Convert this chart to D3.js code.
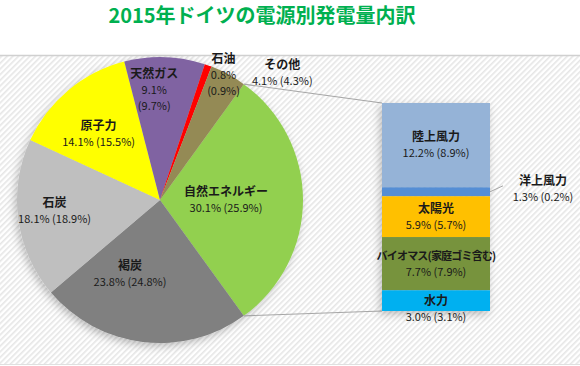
<!DOCTYPE html>
<html>
<head>
<meta charset="utf-8">
<script src="https://cdn.jsdelivr.net/npm/d3@7"></script>
<style>
  body { margin: 0; background: #fff; }
  svg text { font-family: "Noto Sans CJK JP", "Noto Sans", sans-serif; fill: #1a1a1a; }
</style>
</head>
<body>
<svg id="chart"></svg>
<script>
// 2015 share (2014 share in brackets)
var pieNames = ["自然エネルギー", "褐炭", "石炭", "原子力", "天然ガス", "石油", "その他"];
var pie2015  = [30.1, 23.8, 18.1, 14.1, 9.1, 0.8, 4.1];
var pie2014  = [25.9, 24.8, 18.9, 15.5, 9.7, 0.9, 4.3];
var pieColors = ["#92d050", "#808080", "#bfbfbf", "#ffff00", "#8064a2", "#ff0000", "#948a54"];

var barNames = ["陸上風力", "洋上風力", "太陽光", "バイオマス(家庭ゴミ含む)", "水力"];
var bar2015  = [12.2, 1.3, 5.9, 7.7, 3.0];
var bar2014  = [8.9, 0.2, 5.7, 7.9, 3.1];
var barColors = ["#95b3d7", "#558ed5", "#ffc000", "#77933c", "#00b0f0"];

var width = 580,
    height = 366,
    cx = 160, cy = 200, radius = 143;

var svg = d3.select("#chart")
    .attr("width", width)
    .attr("height", height);

var defs = svg.append("defs");
var pat = defs.append("pattern")
    .attr("id", "hatch")
    .attr("width", 4).attr("height", 4)
    .attr("patternUnits", "userSpaceOnUse")
    .attr("patternTransform", "rotate(-45)");
pat.append("rect").attr("width", 4).attr("height", 4).attr("fill", "#ffffff");
pat.append("rect").attr("width", 4).attr("height", 1.6).attr("fill", "#e6e6e6");

var shadow = defs.append("filter").attr("id", "shadow")
    .attr("x", "-20%").attr("y", "-20%").attr("width", "140%").attr("height", "140%");
shadow.append("feDropShadow")
    .attr("dx", -2).attr("dy", 3).attr("stdDeviation", 4)
    .attr("flood-color", "#000").attr("flood-opacity", 0.25);

// panel
svg.append("rect").attr("x", 0).attr("y", 55).attr("width", width).attr("height", 309)
    .attr("fill", "url(#hatch)");
svg.append("line").attr("x1", 0).attr("x2", width).attr("y1", 55.5).attr("y2", 55.5)
    .attr("stroke", "#d0d0d0").attr("stroke-width", 1.5);
svg.append("line").attr("x1", 0).attr("x2", width).attr("y1", 364.5).attr("y2", 364.5)
    .attr("stroke", "#e0e0e0");

svg.append("text")
    .attr("x", 262).attr("y", 23)
    .attr("text-anchor", "middle")
    .style("font-size", "20px").style("font-weight", "bold")
    .style("fill", "#00b050")
    .text("2015年ドイツの電源別発電量内訳");

// pie, renewable slice centred on 3 o'clock
var total = d3.sum(pie2015);
var start = Math.PI / 2 - pie2015[0] / total * Math.PI;
var pie = d3.pie().sort(null).startAngle(start).endAngle(start + 2 * Math.PI);
var arcs = pie(pie2015);
var arc = d3.arc().innerRadius(0).outerRadius(radius);

var g = svg.append("g").attr("transform", "translate(" + cx + "," + cy + ")");
g.append("g").attr("filter", "url(#shadow)")
  .selectAll("path")
  .data(arcs)
  .enter().append("path")
    .attr("d", arc)
    .attr("fill", function(d, i) { return pieColors[i]; });

// connector lines to the bar
var barX0 = 382, barX1 = 490;
var y = d3.scaleLinear().domain([0, d3.sum(bar2015)]).range([103, 311]);
var green = arcs[0];
[[green.startAngle, y(0)], [green.endAngle, y(d3.sum(bar2015))]].forEach(function(p) {
    svg.append("line")
        .attr("x1", cx + radius * Math.sin(p[0]))
        .attr("y1", cy - radius * Math.cos(p[0]))
        .attr("x2", barX0).attr("y2", p[1])
        .attr("stroke", "#a6a6a6").attr("stroke-width", 1.2);
});

// bar of renewables
var stack = d3.cumsum(bar2015);
var bg = svg.append("g").attr("filter", "url(#shadow)");
bg.selectAll("rect")
  .data(bar2015)
  .enter().append("rect")
    .attr("x", barX0)
    .attr("width", barX1 - barX0)
    .attr("y", function(d, i) { return y(stack[i] - d); })
    .attr("height", function(d) { return y(d) - y(0); })
    .attr("fill", function(d, i) { return barColors[i]; });

// pie labels (angle in degrees clockwise from top, distance from centre)
var pieLabelAt = [[90, 66], [202, 80], [264, 106], [317, 90], [357, 110], [27, 140], [44, 176]];
pieLabelAt.forEach(function(p, i) {
    var a = p[0] * Math.PI / 180,
        lx = cx + p[1] * Math.sin(a),
        ly = cy - p[1] * Math.cos(a);
    var lines = [pie2015[i].toFixed(1) + "% (" + pie2014[i].toFixed(1) + "%)"];
    if (pieNames[i] == "天然ガス" || pieNames[i] == "石油")
        lines = [pie2015[i].toFixed(1) + "%", "(" + pie2014[i].toFixed(1) + "%)"];
    var top = ly - (lines.length * 16) / 2;
    var t = svg.append("text").attr("text-anchor", "middle");
    t.append("tspan").attr("x", lx).attr("y", top + 4)
        .style("font-size", "12px").style("font-weight", "bold").text(pieNames[i]);
    lines.forEach(function(s, k) {
        t.append("tspan").attr("x", lx).attr("y", top + 20 + k * 16)
            .style("font-size", "11px").text(s);
    });
});

// bar labels
var barMid = (barX0 + barX1) / 2;
bar2015.forEach(function(d, i) {
    var mid = y(stack[i] - d / 2);
    var lx = barMid, ly = mid;
    if (barNames[i] == "洋上風力") {
        lx = 543; ly = mid - 3;
        svg.append("line").attr("x1", barX1).attr("y1", mid)
            .attr("x2", 503).attr("y2", mid - 6)
            .attr("stroke", "#a6a6a6");
    }
    if (barNames[i] == "水力") ly = mid + 8;
    var fs = barNames[i].length > 8 ? "11px" : "12px";
    var t = svg.append("text").attr("text-anchor", "middle");
    t.append("tspan").attr("x", lx).attr("y", ly - 4)
        .style("font-size", fs).style("font-weight", "bold")
        .style("letter-spacing", barNames[i].length > 8 ? "-0.8px" : null)
        .text(barNames[i]);
    t.append("tspan").attr("x", lx).attr("y", ly + 12)
        .style("font-size", "11px")
        .text(d.toFixed(1) + "% (" + bar2014[i].toFixed(1) + "%)");
});
</script>
</body>
</html>
